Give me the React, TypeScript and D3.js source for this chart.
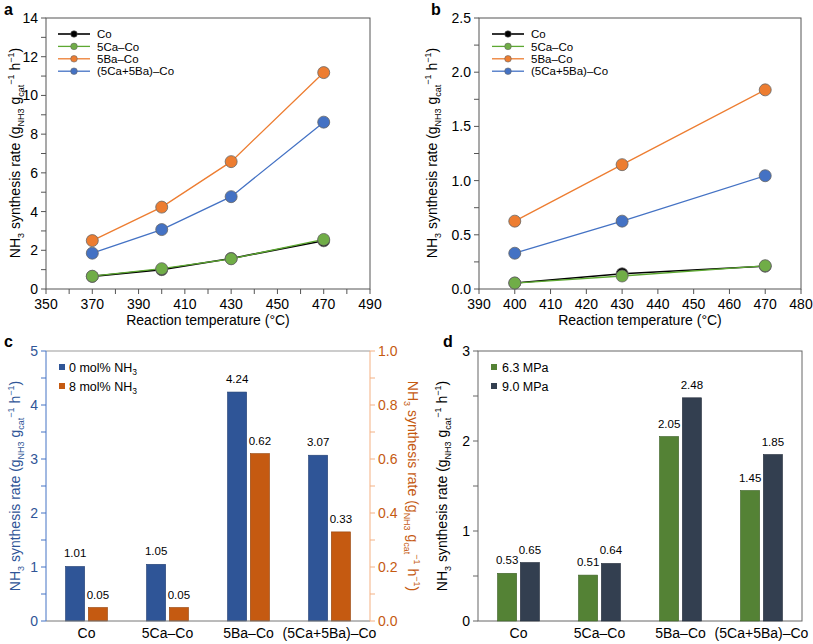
import React, { useEffect, useRef } from 'react';
import * as d3 from 'd3';

// panel a: rate vs temperature
const tempsA = [370, 400, 430, 470];
const coA = [0.65, 1.0, 1.58, 2.49];
const caA = [0.66, 1.05, 1.56, 2.56];
const baA = [2.5, 4.23, 6.58, 11.18];
const cabaA = [1.85, 3.07, 4.77, 8.62];

// panel b
const tempsB = [400, 430, 470];
const coB = [0.055, 0.14, 0.21];
const caB = [0.055, 0.12, 0.215];
const baB = [0.626, 1.147, 1.837];
const cabaB = [0.33, 0.626, 1.045];

const seriesNames = ['Co', '5Ca–Co', '5Ba–Co', '(5Ca+5Ba)–Co'];
const lineColors = ['#000000', '#70AD47', '#ED7D31', '#4472C4'];
const lineStroke = ['#000000', '#5DA832', '#ED7D31', '#4472C4'];

// panels c & d
const catalysts = ['Co', '5Ca–Co', '5Ba–Co', '(5Ca+5Ba)–Co'];
const noNH3 = [1.01, 1.05, 4.24, 3.07];
const withNH3 = [0.05, 0.05, 0.62, 0.33];
const p63 = [0.53, 0.51, 2.05, 1.45];
const p90 = [0.65, 0.64, 2.48, 1.85];

const FONT = '"Liberation Sans", Arial, sans-serif';

type G = d3.Selection<SVGGElement, unknown, null, undefined>;

function yTitle(g: G, x: number, y: number, rot: number, color: string) {
  const t = g.append('text')
    .attr('transform', `translate(${x},${y}) rotate(${rot})`)
    .attr('text-anchor', 'middle')
    .attr('font-size', 14)
    .attr('fill', color);
  const parts: [string, string][] = [
    ['NH', 'n'], ['3', 'sub'], [' synthesis rate (g', 'n'], ['NH3', 'sub'],
    [' g', 'n'], ['cat', 'sub'], ['−1', 'sup'], [' h', 'n'], ['−1', 'sup'], [')', 'n'],
  ];
  let shift = 0;
  parts.forEach(([s, k]) => {
    const target = k === 'sub' ? 4 : k === 'sup' ? -6 : 0;
    t.append('tspan')
      .attr('dy', target - shift)
      .attr('font-size', k === 'n' ? 14 : 9)
      .text(s);
    shift = target;
  });
}

function leftTicks(g: G, y: d3.ScaleLinear<number, number>, x: number, major: number[], minor: number[], fmt: (v: number) => string, color: string, lineColor: string) {
  minor.forEach(v => {
    g.append('line').attr('x1', x - 5).attr('x2', x).attr('y1', y(v)).attr('y2', y(v)).attr('stroke', lineColor);
  });
  major.forEach(v => {
    g.append('text').attr('x', x - 8).attr('y', y(v) + 5).attr('text-anchor', 'end')
      .attr('font-size', 14).attr('fill', color).text(fmt(v));
  });
}

function rightTicks(g: G, y: d3.ScaleLinear<number, number>, x: number, major: number[], minor: number[], fmt: (v: number) => string, color: string, lineColor: string) {
  minor.forEach(v => {
    g.append('line').attr('x1', x).attr('x2', x + 5).attr('y1', y(v)).attr('y2', y(v)).attr('stroke', lineColor);
  });
  major.forEach(v => {
    g.append('text').attr('x', x + 8).attr('y', y(v) + 5).attr('text-anchor', 'start')
      .attr('font-size', 14).attr('fill', color).text(fmt(v));
  });
}

function linePanel(g: G, x: d3.ScaleLinear<number, number>, y: d3.ScaleLinear<number, number>, temps: number[], data: number[][], xMajor: number[], xMinor: number[], yMajor: number[], yMinor: number[], yFmt: (v: number) => string, legendX: number) {
  const [x0, x1] = x.range();
  const [y0, y1] = y.range();
  g.append('rect').attr('x', x0).attr('y', y1).attr('width', x1 - x0).attr('height', y0 - y1)
    .attr('fill', 'none').attr('stroke', '#555');
  xMinor.forEach(v => {
    g.append('line').attr('x1', x(v)).attr('x2', x(v)).attr('y1', y0).attr('y2', y0 + 5).attr('stroke', '#555');
  });
  xMajor.forEach(v => {
    g.append('text').attr('x', x(v)).attr('y', y0 + 20).attr('text-anchor', 'middle').attr('font-size', 14).text(v);
  });
  leftTicks(g, y, x0, yMajor, yMinor, yFmt, '#000', '#555');

  const line = d3.line<number>().x((_, i) => x(temps[i])).y(d => y(d));
  data.forEach((s, k) => {
    g.append('path').attr('d', line(s)).attr('fill', 'none')
      .attr('stroke', lineStroke[k]).attr('stroke-width', k === 0 ? 1.6 : 1.3);
  });
  data.forEach((s, k) => {
    s.forEach((v, i) => {
      g.append('circle').attr('cx', x(temps[i])).attr('cy', y(v)).attr('r', 6)
        .attr('fill', lineColors[k]).attr('stroke', '#666').attr('stroke-width', 0.8);
    });
  });

  // legend
  seriesNames.forEach((n, k) => {
    const ly = 34 + k * 12.4;
    g.append('line').attr('x1', legendX).attr('x2', legendX + 32).attr('y1', ly).attr('y2', ly)
      .attr('stroke', lineStroke[k]).attr('stroke-width', k === 0 ? 1.6 : 1.3);
    g.append('circle').attr('cx', legendX + 16).attr('cy', ly).attr('r', 3.3)
      .attr('fill', lineColors[k]).attr('stroke', '#666').attr('stroke-width', 0.6);
    g.append('text').attr('x', legendX + 39).attr('y', ly + 4.2).attr('font-size', 11.5).text(n);
  });
}

function barGroups(g: G, x0: d3.ScaleBand<string>, a: number[], b: number[], ya: d3.ScaleLinear<number, number>, yb: d3.ScaleLinear<number, number>, ca: string, cb: string, la: string[], lb: string[]) {
  const bw = x0.bandwidth();
  const x1 = d3.scaleBand<string>().domain(['a', 'b']).range([bw / 2 - 21, bw / 2 + 21]).paddingInner(0.16);
  catalysts.forEach((c, i) => {
    const gx = x0(c)!;
    [[a[i], ya, ca, la[i], 'a'], [b[i], yb, cb, lb[i], 'b']].forEach(([v, y, col, lab, key]: any) => {
      const bx = gx + x1(key)!;
      g.append('rect').attr('x', bx).attr('y', y(v)).attr('width', x1.bandwidth()).attr('height', y(0) - y(v))
        .attr('fill', col).attr('stroke', d3.color(col)!.darker(0.8).toString()).attr('stroke-width', 0.6);
      g.append('text').attr('x', bx + x1.bandwidth() / 2).attr('y', y(v) - 9).attr('text-anchor', 'middle')
        .attr('font-size', 11.5).text(lab);
    });
    g.append('text').attr('x', gx + bw / 2).attr('y', 638).attr('text-anchor', 'middle').attr('font-size', 14).text(c);
  });
}

export default function App() {
  const ref = useRef<SVGSVGElement>(null);

  useEffect(() => {
    const svg = d3.select(ref.current!);
    svg.selectAll('*').remove();
    const root = svg.append('g') as unknown as G;

    // panel letters
    [['a', 4, 15], ['b', 431, 15], ['c', 4, 347], ['d', 443, 347]].forEach(([t, x, y]: any) => {
      root.append('text').attr('x', x).attr('y', y).attr('font-size', 16).attr('font-weight', 'bold').text(t);
    });

    // ---- a
    const xa = d3.scaleLinear().domain([350, 490]).range([46, 370]);
    const ya = d3.scaleLinear().domain([0, 14]).range([289, 18]);
    linePanel(root, xa, ya, tempsA, [coA, caA, baA, cabaA],
      d3.range(350, 491, 20), d3.range(350, 491, 10), d3.range(0, 15, 2), d3.range(0, 15, 1), v => String(v), 58);
    yTitle(root, 20, 153, -90, '#000');
    root.append('text').attr('x', 208).attr('y', 325).attr('text-anchor', 'middle').attr('font-size', 14).text('Reaction temperature (°C)');

    // ---- b
    const xb = d3.scaleLinear().domain([390, 480]).range([479, 801]);
    const yb = d3.scaleLinear().domain([0, 2.5]).range([289, 18]);
    linePanel(root, xb, yb, tempsB, [coB, caB, baB, cabaB],
      d3.range(390, 481, 10), d3.range(390, 481, 10), d3.range(0, 2.51, 0.5), d3.range(0, 2.51, 0.25), v => v.toFixed(1), 492);
    yTitle(root, 437, 153, -90, '#000');
    root.append('text').attr('x', 640).attr('y', 325).attr('text-anchor', 'middle').attr('font-size', 14).text('Reaction temperature (°C)');

    // ---- c
    const xc = d3.scaleBand<string>().domain(catalysts).range([46, 370]);
    const ycl = d3.scaleLinear().domain([0, 5]).range([621, 351]);
    const ycr = d3.scaleLinear().domain([0, 1]).range([621, 351]);
    root.append('line').attr('x1', 46).attr('x2', 370).attr('y1', 351).attr('y2', 351).attr('stroke', '#999');
    barGroups(root, xc, noNH3, withNH3, ycl, ycr, '#2F5597', '#C55A11',
      noNH3.map(v => v.toFixed(2)), withNH3.map(v => v.toFixed(2)));
    root.append('line').attr('x1', 46).attr('x2', 370).attr('y1', 621).attr('y2', 621).attr('stroke', '#777');
    root.append('line').attr('x1', 46).attr('x2', 46).attr('y1', 351).attr('y2', 621).attr('stroke', '#4472C4');
    root.append('line').attr('x1', 370).attr('x2', 370).attr('y1', 351).attr('y2', 621).attr('stroke', '#F4B183');
    leftTicks(root, ycl, 46, d3.range(0, 5.01, 1), d3.range(0, 5.01, 0.5), v => String(v), '#2F5597', '#4472C4');
    rightTicks(root, ycr, 370, d3.range(0, 1.01, 0.2), d3.range(0, 1.01, 0.1), v => v.toFixed(1), '#C55A11', '#F4B183');
    yTitle(root, 20, 486, -90, '#2F5597');
    yTitle(root, 408, 486, 90, '#C55A11');
    [['0 mol% NH', '#2F5597', 368], ['8 mol% NH', '#C55A11', 387]].forEach(([t, c, y]: any) => {
      root.append('rect').attr('x', 59).attr('y', y - 4).attr('width', 6).attr('height', 6).attr('fill', c);
      const tx = root.append('text').attr('x', 69).attr('y', y + 4).attr('font-size', 12.5);
      tx.append('tspan').text(t);
      tx.append('tspan').attr('dy', 3).attr('font-size', 8.5).text('3');
    });

    // ---- d
    const xd = d3.scaleBand<string>().domain(catalysts).range([478, 802]);
    const yd = d3.scaleLinear().domain([0, 3]).range([621, 351]);
    root.append('rect').attr('x', 478).attr('y', 351).attr('width', 324).attr('height', 270)
      .attr('fill', 'none').attr('stroke', '#666');
    barGroups(root, xd, p63, p90, yd, yd, '#548235', '#333F50',
      p63.map(v => v.toFixed(2)), p90.map(v => v.toFixed(2)));
    leftTicks(root, yd, 478, d3.range(0, 3.01, 1), d3.range(0, 3.01, 0.5), v => String(v), '#000', '#666');
    yTitle(root, 447, 486, -90, '#000');
    [['6.3 MPa', '#548235', 368], ['9.0 MPa', '#333F50', 387]].forEach(([t, c, y]: any) => {
      root.append('rect').attr('x', 491).attr('y', y - 4).attr('width', 6).attr('height', 6).attr('fill', c);
      root.append('text').attr('x', 502).attr('y', y + 4).attr('font-size', 12.5).text(t);
    });
  }, []);

  return (
    <svg ref={ref} width={813} height={644}
      style={{ position: 'absolute', left: 0, top: 0, fontFamily: FONT, background: '#fff' }} />
  );
}
